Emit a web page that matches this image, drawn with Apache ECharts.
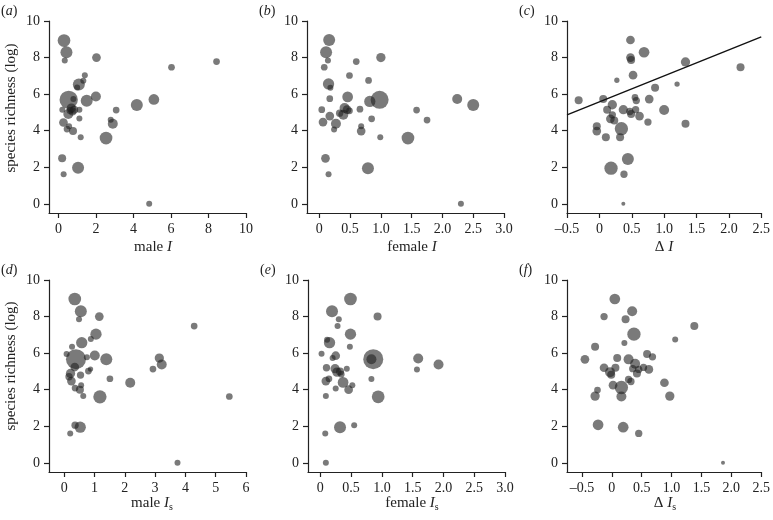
<!DOCTYPE html>
<html><head><meta charset="utf-8">
<script src="https://cdn.jsdelivr.net/npm/echarts@6/dist/echarts.min.js"></script>
<style>html,body{margin:0;padding:0;background:#fff}#c{width:773px;height:520px}</style>
</head><body><div id="c"></div>
<script>
// ---- data: [x, species richness (log), bubble weight] ----
const maleI = [[0.30,8.93,12.7],[0.43,8.29,12],[0.34,7.84,6],[2.03,8.0,8.7],[6.03,7.47,6.7],[8.43,7.78,6.7],[1.41,7.04,6],[1.09,6.53,12],[1.33,6.73,6],[1.0,6.36,6],[0.55,5.69,18.3],[1.51,5.64,12],[2.0,5.87,10],[0.8,5.73,6],[4.18,5.4,12],[5.09,5.71,10.7],[3.08,5.13,6.7],[0.21,5.15,6],[1.12,5.15,6],[0.69,5.24,9.3],[0.84,5.15,8],[0.53,4.91,10],[0.75,5.05,8],[0.62,5.1,7],[0.27,4.45,8.7],[1.12,4.67,6],[2.79,4.6,6],[2.9,4.38,10],[0.57,4.24,6],[0.46,4.09,6.7],[0.78,3.98,8],[1.19,3.64,6],[2.54,3.6,12.7],[0.2,2.49,8],[1.05,1.98,12],[0.28,1.62,6],[4.84,0.0,6]];
const femaleI = [[0.16,8.96,12],[0.11,8.29,12],[0.14,7.84,6],[0.08,7.47,6.7],[0.6,7.78,6.7],[1.0,8.0,9.3],[0.49,7.02,6.7],[0.8,6.75,6.7],[0.15,6.56,11.3],[0.18,6.35,6],[0.17,5.75,6.7],[0.46,5.85,10.7],[0.98,5.69,18],[0.82,5.6,11.3],[2.24,5.73,10],[2.5,5.4,12],[1.58,5.13,6.7],[1.75,4.58,6.7],[0.04,5.15,6.7],[0.41,5.24,10],[0.45,5.15,8.7],[0.49,5.09,6.7],[0.66,5.18,6.7],[0.39,4.87,10],[0.33,4.96,7.3],[0.17,4.8,8.7],[0.06,4.47,8.7],[0.27,4.38,10],[0.24,4.07,6],[0.68,4.24,6],[0.68,3.98,8.7],[0.85,4.65,6.7],[0.99,3.64,6],[1.44,3.6,12.7],[0.1,2.49,8.7],[0.79,1.95,12],[0.15,1.62,6],[2.3,0.0,6]];
const deltaI = [[0.48,8.96,8.7],[0.48,8.0,8.7],[0.49,7.87,8],[0.69,8.29,10.7],[1.33,7.76,9.3],[2.18,7.47,8],[0.52,7.04,8.7],[0.27,6.76,5.3],[1.2,6.55,5.3],[0.86,6.35,8],[-0.32,5.67,8],[0.06,5.73,8],[0.55,5.82,6.7],[0.57,5.65,7.3],[0.77,5.73,8.7],[0.2,5.42,9.3],[0.12,5.15,8],[0.37,5.15,9.3],[0.47,5.05,7.3],[0.56,5.15,7.3],[1.0,5.13,10],[0.49,4.91,8],[0.62,4.8,8.7],[0.2,4.87,7.3],[0.17,4.65,8.7],[0.23,4.56,8],[0.75,4.47,7.3],[1.33,4.38,8],[0.34,4.11,13.3],[-0.04,4.24,8],[-0.04,3.98,8.7],[0.1,3.64,8],[0.32,3.64,8],[0.44,2.45,12],[0.18,1.95,13.3],[0.38,1.62,7.3],[0.37,0.0,4]];
const maleIs = [[0.35,8.96,12.7],[0.55,8.29,12],[0.49,7.85,6],[1.16,8.0,8.7],[4.29,7.48,6.7],[1.05,7.04,11.3],[0.88,6.77,6],[0.58,6.57,11.3],[0.26,6.35,6],[0.08,5.95,6],[0.39,5.67,20],[0.75,5.77,6],[1.01,5.87,10],[1.39,5.66,12],[3.14,5.73,9.3],[3.22,5.38,10],[2.93,5.13,6.7],[0.35,5.24,8.7],[0.21,4.89,9.3],[0.54,4.8,7.3],[0.8,5.02,6.7],[0.87,5.13,5.3],[0.16,4.71,7.3],[0.24,4.47,8.7],[1.51,4.6,6.7],[2.18,4.38,10],[0.36,4.09,6.7],[0.56,4.25,6],[0.52,4.0,8],[0.63,3.65,6],[1.18,3.61,13.3],[5.45,3.63,6.7],[0.36,2.06,7.3],[0.53,1.95,11.3],[0.2,1.61,6],[3.74,0.0,6]];
const femaleIs = [[0.49,8.96,12.7],[0.19,8.29,12],[0.3,7.85,6],[0.28,7.48,6],[0.93,8.0,8],[0.49,7.04,11.3],[0.11,6.73,6],[0.15,6.57,11.3],[0.48,6.35,6],[0.02,5.97,6],[0.86,5.67,20],[0.83,5.67,10],[0.25,5.86,8.7],[0.2,5.73,6],[1.59,5.71,10],[1.92,5.38,10],[1.57,5.11,6],[0.1,5.2,7.3],[0.24,5.15,9.3],[0.27,4.96,9.3],[0.43,5.15,6],[0.32,5.0,8],[0.34,4.85,6.7],[0.14,4.6,6.7],[0.09,4.47,8.7],[0.37,4.4,10.7],[0.83,4.58,6],[0.52,4.25,6],[0.46,4.0,8.7],[0.25,4.07,6],[0.09,3.65,6],[0.94,3.61,12.7],[0.32,1.95,12],[0.55,2.06,6],[0.08,1.61,6],[0.09,0.0,6]];
const deltaIs = [[0.05,8.96,10.7],[0.34,8.29,10],[-0.13,8.0,7.3],[0.23,7.85,8],[1.38,7.48,8],[0.37,7.04,13.3],[1.06,6.75,6],[0.21,6.55,6],[-0.28,6.35,8],[-0.45,5.66,8.7],[0.09,5.73,8],[0.28,5.66,10],[0.59,5.95,8],[0.68,5.8,7.3],[-0.13,5.2,8.7],[0.06,5.2,8],[0.39,5.42,10],[0.35,5.15,7.3],[0.45,5.11,7.3],[0.53,5.22,7.3],[0.62,5.11,8.7],[-0.03,4.96,10],[-0.01,4.82,8],[0.42,4.89,8],[0.28,4.56,7.3],[0.32,4.45,7.3],[0.02,4.25,8.7],[0.16,4.12,13.3],[-0.24,3.98,6.7],[-0.28,3.65,9.3],[0.16,3.63,10],[0.88,4.38,8.7],[0.97,3.65,9.3],[-0.23,2.08,10.7],[0.19,1.95,10.7],[0.45,1.61,7.3],[1.86,0.0,4]];

// regression line in panel (c)
const fitIntercept = 5.58;
const fitSlope = 1.42;

// tick values
const yTicks = [0, 2, 4, 6, 8, 10];
const ticksMaleI = [0, 2, 4, 6, 8, 10];
const ticksFemale = [0, 0.5, 1.0, 1.5, 2.0, 2.5, 3.0];
const ticksDelta = [-0.5, 0, 0.5, 1.0, 1.5, 2.0, 2.5];
const ticksMaleIs = [0, 1, 2, 3, 4, 5, 6];

// ---- layout ----
const FONT = '"Liberation Serif", "Times New Roman", Times, serif';
const INK = '#222';
const panels = [
  {data: maleI,    label: 'a', xMin: -0.5, xMax: 10,  ticks: ticksMaleI,  dec: 0, left: 49,  top: 21,  w: 197, title: 'male {i|I}',     tx: 153, ty: 247},
  {data: femaleI,  label: 'b', xMin: -0.2, xMax: 3,   ticks: ticksFemale, dec: 1, left: 307, top: 21,  w: 197, title: 'female {i|I}',   tx: 412, ty: 247},
  {data: deltaI,   label: 'c', xMin: -0.5, xMax: 2.5, ticks: ticksDelta,  dec: 1, left: 567, top: 21,  w: 197, title: 'Δ {i|I}',        tx: 664, ty: 247},
  {data: maleIs,   label: 'd', xMin: -0.5, xMax: 6,   ticks: ticksMaleIs, dec: 0, left: 49,  top: 280, w: 197, title: 'male {i|I}{s|s}',   tx: 152, ty: 503},
  {data: femaleIs, label: 'e', xMin: -0.2, xMax: 3,   ticks: ticksFemale, dec: 1, left: 308, top: 280, w: 197, title: 'female {i|I}{s|s}', tx: 412, ty: 503},
  {data: deltaIs,  label: 'f', xMin: -0.75,xMax: 2.5, ticks: ticksDelta,  dec: 1, left: 567, top: 280, w: 197, title: 'Δ {i|I}{s|s}',      tx: 665, ty: 503}
];
const PH = 192;

function fmt(v, dec) {
  if (v === 0) return '0';
  const s = v.toFixed(dec);
  return v < 0 ? '\u2013' + s.slice(1) : s;
}

const grid = [], xAxis = [], yAxis = [], series = [], graphic = [];
const axisLine = {show: true, onZero: false, lineStyle: {color: INK, width: 1.2}};

panels.forEach((p, k) => {
  grid.push({left: p.left, top: p.top, width: p.w, height: PH});
  xAxis.push({
    type: 'value', gridIndex: k, min: p.xMin, max: p.xMax,
    axisLine: axisLine, splitLine: {show: false},
    axisTick: {show: true, length: 5, lineStyle: {color: INK, width: 1.2}, customValues: p.ticks},
    axisLabel: {customValues: p.ticks, margin: 9, fontFamily: FONT, fontSize: 14, color: INK,
                formatter: (v) => fmt(v, p.dec)}
  });
  yAxis.push({
    type: 'value', gridIndex: k, min: -0.5, max: 10,
    axisLine: axisLine, splitLine: {show: false},
    axisTick: {show: true, length: 5, lineStyle: {color: INK, width: 1.2}, customValues: yTicks},
    axisLabel: {customValues: yTicks, margin: 9, fontFamily: FONT, fontSize: 14, color: INK,
                formatter: (v) => String(v)}
  });
  series.push({
    type: 'scatter', xAxisIndex: k, yAxisIndex: k, data: p.data,
    symbolSize: (v) => v[2], clip: false,
    itemStyle: {color: 'rgba(30,30,30,0.74)'}
  });
  graphic.push({type: 'text', left: p.left - 48, top: p.top - 17,
    style: {text: '({i|' + p.label + '})', font: '14px ' + FONT, fill: INK,
            rich: {i: {fontStyle: 'italic', fontFamily: FONT, fontSize: 14, fill: INK}}}});
  graphic.push({type: 'text', x: p.tx, y: p.ty,
    style: {text: p.title, font: '15px ' + FONT, fill: INK, align: 'center', verticalAlign: 'middle',
            rich: {i: {fontStyle: 'italic', fontFamily: FONT, fontSize: 15, fill: INK},
                   s: {fontFamily: FONT, fontSize: 10, fill: INK, padding: [9, 0, 0, 0]}}}});
});

// regression line in panel (c), drawn through the axes
const fitX = [panels[2].xMin, panels[2].xMax];
series.push({
  type: 'line', xAxisIndex: 2, yAxisIndex: 2, symbol: 'none', silent: true,
  data: fitX.map(x => [x, fitIntercept + fitSlope * x]),
  lineStyle: {color: '#111', width: 1.4}
});

// y-axis titles
[{y: 108}, {y: 366}].forEach(t => {
  graphic.push({type: 'text', x: 11, y: t.y, rotation: Math.PI / 2,
    style: {text: 'species richness (log)', font: '15px ' + FONT, fill: INK, align: 'center', verticalAlign: 'middle'}});
});

const chart = echarts.init(document.getElementById('c'), null, {renderer: 'canvas'});
chart.setOption({animation: false, grid, xAxis, yAxis, series, graphic});
</script></body></html>
